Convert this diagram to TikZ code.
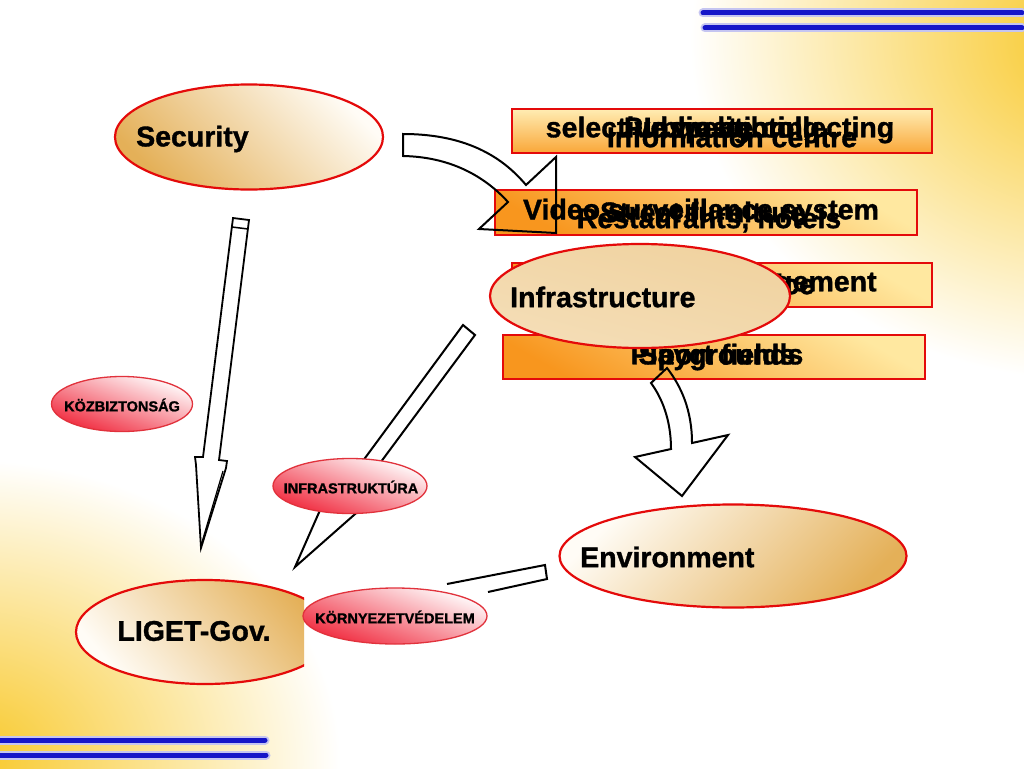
\documentclass[tikz,border=0pt]{standalone}
\usepackage{fontspec}
\setmainfont{Liberation Sans}
\newfontfamily\heavyfont{Liberation Sans Bold}[FakeBold=1.2]
\usetikzlibrary{shapes.geometric}
\definecolor{bggold}{RGB}{248,200,40}
\definecolor{lineblue}{RGB}{22,22,200}
\definecolor{bordred}{RGB}{228,10,10}
\definecolor{tanc}{RGB}{228,176,88}
\definecolor{creamc}{RGB}{255,252,246}
\definecolor{boxorange}{RGB}{248,150,30}
\definecolor{boxlight}{RGB}{255,232,160}
\definecolor{pinkred}{RGB}{240,40,60}
\definecolor{smallred}{RGB}{225,50,60}
\begin{document}
\begin{tikzpicture}[x=1pt,y=-1pt,
  bigell/.style={ellipse, draw=bordred, line width=2.2pt, inner sep=0pt},
  smallell/.style={ellipse, draw=smallred, line width=1.3pt, inner sep=0pt,
     top color=white, bottom color=pinkred, shading angle=-20},
  boxn/.style={rectangle, draw=bordred, line width=2.5pt, inner sep=0pt,
     top color=boxlight, bottom color=boxorange, shading angle=-30},
  bigtxt/.style={inner sep=0pt, font=\heavyfont\fontsize{28.5}{30}\selectfont},
  boxtxt/.style={inner sep=0pt, font=\heavyfont\fontsize{28.5}{30}\selectfont},
  smalltxt/.style={inner sep=0pt, font=\heavyfont\fontsize{14.5}{16}\selectfont},
  blk/.style={draw=black, line width=2pt, line join=miter},
  blueline/.style={draw=lineblue, line width=5pt, line cap=round},
  blueglow/.style={draw=lineblue!25, line width=9pt, line cap=round}
]
\useasboundingbox (0,0) rectangle (1024,768);
\fill[white] (0,0) rectangle (1024,768);
\begin{scope}
  \clip (0,0) rectangle (1024,768);
  \shade[inner color=bggold, outer color=white] (1090,40) ellipse (400 and 340);
  \shade[inner color=bggold, outer color=white] (-30,760) ellipse (370 and 300);
\end{scope}

% blue lines
\draw[blueglow] (703,13) -- (1022,13);
\draw[blueglow] (705,28) -- (1022,28);
\draw[blueglow] (0,740) -- (265,740);
\draw[blueglow] (0,755) -- (266,755);
\draw[blueline] (703,13) -- (1022,13);
\draw[blueline] (705,28) -- (1022,28);
\draw[blueline] (0,740) -- (265,740);
\draw[blueline] (0,755) -- (266,755);

% boxes
\node[boxn, minimum width=420pt, minimum height=44pt,
      top color=boxlight!80!white, bottom color=boxorange!80!boxlight] (b1) at (722,131) {};
\node[boxn, minimum width=422pt, minimum height=45pt] (b2) at (706,212.5) {};
\node[boxn, minimum width=420pt, minimum height=44pt] (b3) at (722,285) {};
\node[boxn, minimum width=422pt, minimum height=44pt] (b4) at (714,357) {};

\node[boxtxt] (t1a) at (720,130) {selective waste collecting};
\node[boxtxt] (t1b) at (722,130) {Public lighting};
\node[boxtxt] (t1c) at (715,130) {Inspection};
\node[boxtxt] (t1d) at (732,137) {Information centre};

\node[boxtxt] (t2a) at (701,212) {Video surveillance system};
\node[boxtxt] (t2b) at (703,212) {Street furniture};
\node[boxtxt] (t2c) at (709,220) {Restaurants, hotels};

\node[boxtxt] (t3a) at (742,284) {Traffic management};
\node[boxtxt] (t3b) at (742,284) {Post office};

\node[boxtxt] (t4a) at (717,357) {Playgrounds};
\node[boxtxt] (t4b) at (717,357) {Sport fields};

% arrow Security -> boxes (outline only)
\draw[blk] (403,134) .. controls (470,134) and (505,160) .. (526,185)
   -- (556,157) -- (556,233) -- (479,229) -- (508,202)
   .. controls (488,180) and (455,157) .. (403,156) -- cycle;

% arrow Security -> LIGET-Gov.
\draw[blk, line width=1.8pt] (233,218) -- (249,220) -- (219,460) -- (227,461) -- (226,468)
   -- (201,548) -- (196,465) -- (195,457) -- (203,457) -- cycle;
\draw[blk, line width=1.5pt] (232,227) -- (248,229);
\draw[blk, line width=1.2pt] (223,471) -- (202,542);

% Infrastructure ellipse
\node[bigell, minimum width=300pt, minimum height=104pt,
      top color=tanc!55!creamc, middle color=white, bottom color=tanc!40!creamc, shading angle=-15] (infra) at (640,296) {};
\node[bigtxt, anchor=west] (infratxt) at (510,297) {Infrastructure};

% arrow Infrastructure -> Environment
\draw[blk] (651,383) -- (667,368) .. controls (681,386) and (692,410) .. (692,443)
   -- (728,435) -- (682,496) -- (635,457) -- (671,449)
   .. controls (671,420) and (662,398) .. (651,383) -- cycle;

% diagonal arrow Infrastructure -> LIGET-Gov.
\draw[blk, fill=white] (463,325) -- (475,335) -- (369,478) -- (371,500) -- (295,567)
   -- (328,492) -- (340,492) -- cycle;

% small ellipses
\node[smallell, minimum width=141pt, minimum height=55pt] (kozb) at (122,404) {};
\node[smalltxt] (kozbtxt) at (122,405) {KÖZBIZTONSÁG};
\node[smallell, minimum width=154pt, minimum height=55pt] (infrahu) at (350,486) {};
\node[smalltxt] (infrahutxt) at (351,487) {INFRASTRUKTÚRA};

% Security
\node[bigell, minimum width=268pt, minimum height=105pt,
      top color=creamc, bottom color=tanc, shading angle=-45] (sec) at (249,137) {};
\node[bigtxt, anchor=west] (sectxt) at (136,139) {Security};

% Environment
\node[bigell, minimum width=347pt, minimum height=103pt,
      top color=creamc, bottom color=tanc, shading angle=45] (env) at (733,556) {};
\node[bigtxt, anchor=west] (envtxt) at (580,557) {Environment};

% LIGET-Gov. (cut on its right side)
\begin{scope}
  \clip (0,0) rectangle (304,768);
  \node[bigell, minimum width=258pt, minimum height=104pt,
        top color=tanc, bottom color=creamc, shading angle=-50] (liget) at (205,632) {};
\end{scope}
\node[bigtxt] (ligettxt) at (194,631) {LIGET-Gov.};

% arrow Environment -> (partly hidden)
\draw[blk] (447,584) -- (545,565) -- (547,579) -- (488,592);

\node[smallell, minimum width=184pt, minimum height=56pt] (korny) at (395,616) {};
\node[smalltxt] (kornytxt) at (395,617) {KÖRNYEZETVÉDELEM};
\end{tikzpicture}
\end{document}
